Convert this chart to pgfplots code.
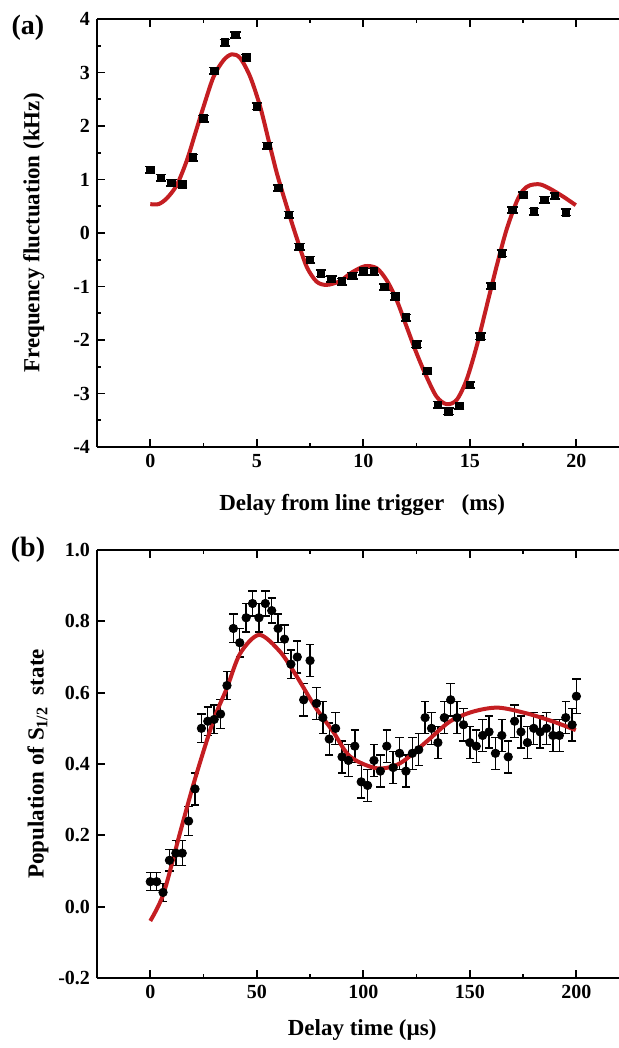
\documentclass[border=0pt]{standalone}
\usepackage{fontspec}
\setmainfont{Liberation Serif}
\usepackage{pgfplots}
\pgfplotsset{compat=1.18}
\usepackage{pgfplotstable}

\definecolor{fitred}{RGB}{196,30,34}

% panel (a): frequency fluctuation vs delay (ms)
\pgfplotstableread{
x y
0 1.18
0.5 1.03
1.0 0.94
1.5 0.91
2.0 1.41
2.5 2.14
3.0 3.03
3.5 3.56
4.0 3.70
4.5 3.28
5.0 2.37
5.5 1.63
6.0 0.84
6.5 0.34
7.0 -0.26
7.5 -0.50
8.0 -0.75
8.5 -0.86
9.0 -0.91
9.5 -0.80
10.0 -0.72
10.5 -0.72
11.0 -1.01
11.5 -1.19
12.0 -1.58
12.5 -2.08
13.0 -2.58
13.5 -3.21
14.0 -3.33
14.5 -3.23
15.0 -2.84
15.5 -1.93
16.0 -0.99
16.5 -0.38
17.0 0.43
17.5 0.71
18.0 0.40
18.5 0.62
19.0 0.69
19.5 0.39
}\freqdata

\pgfplotstableread{
x y
0 0.54
0.39 0.54
0.78 0.65
1.25 0.90
1.72 1.36
2.11 1.86
2.5 2.36
2.97 2.92
3.44 3.23
3.83 3.34
4.22 3.27
4.69 2.92
5.16 2.36
5.55 1.74
5.94 1.12
6.41 0.49
6.88 -0.10
7.34 -0.63
7.81 -0.91
8.28 -0.97
8.9 -0.90
9.45 -0.74
10.08 -0.62
10.63 -0.66
11.09 -0.88
11.56 -1.25
12.03 -1.75
12.5 -2.25
12.97 -2.69
13.44 -3.06
13.91 -3.20
14.38 -3.12
14.84 -2.75
15.31 -2.13
15.78 -1.38
16.25 -0.63
16.72 0.06
17.19 0.58
17.5 0.80
17.81 0.89
18.28 0.91
18.75 0.83
19.38 0.68
19.97 0.52
}\freqfit

% panel (b): population vs delay time (us)
\pgfplotstableread{
x y e
0 0.07 0.025
3 0.07 0.025
6 0.04 0.025
9 0.13 0.03
12 0.15 0.035
15 0.15 0.035
18 0.24 0.04
21 0.33 0.045
24 0.50 0.04
27 0.52 0.04
30 0.525 0.04
33 0.54 0.04
36 0.62 0.04
39 0.78 0.04
42 0.74 0.04
45 0.81 0.04
48 0.85 0.035
51 0.81 0.04
54 0.85 0.035
57 0.83 0.035
60 0.78 0.04
63 0.75 0.04
66 0.68 0.04
69 0.70 0.045
72 0.58 0.045
75 0.69 0.045
78 0.57 0.045
81 0.53 0.045
84 0.47 0.045
87 0.50 0.045
90 0.42 0.045
93 0.41 0.045
96 0.45 0.045
99 0.35 0.045
102 0.34 0.045
105 0.41 0.045
108 0.38 0.045
111 0.45 0.045
114 0.39 0.045
117 0.43 0.045
120 0.38 0.045
123 0.43 0.045
126 0.44 0.045
129 0.53 0.045
132 0.50 0.045
135 0.46 0.045
138 0.53 0.045
141 0.58 0.045
144 0.53 0.045
147 0.51 0.045
150 0.46 0.045
153 0.45 0.045
156 0.48 0.045
159 0.49 0.045
162 0.43 0.045
165 0.48 0.045
168 0.42 0.045
171 0.52 0.045
174 0.49 0.045
177 0.46 0.045
180 0.50 0.045
183 0.49 0.045
186 0.50 0.045
189 0.48 0.045
192 0.48 0.045
195 0.53 0.045
198 0.51 0.045
200 0.59 0.048
}\popdata

\pgfplotstableread{
x y
0 -0.04
6.25 0.037
14.1 0.21
21.1 0.36
29.7 0.523
35.9 0.612
42.2 0.710
51.1 0.762
60.9 0.715
68.8 0.645
77.3 0.561
85.9 0.49
93.75 0.421
106.3 0.388
117.2 0.402
129.7 0.463
140.6 0.519
151.6 0.547
163.3 0.558
176.6 0.542
189.1 0.519
199.7 0.495
}\popfit

\pgfplotsset{
  panel/.style={
    scale only axis,
    width=261pt, height=214pt,
    axis x line*=box, axis y line*=left,
    axis line style={line width=1pt},
    every tick/.style={line width=0.9pt, black},
    major tick length=3.8pt, minor tick length=2pt,
    tick align=inside,
    minor x tick num=1, minor y tick num=1,
    /pgf/number format/assume math mode=true,
    tick label style={font=\bfseries\fontsize{10}{12}\selectfont},
    label style={font=\bfseries\fontsize{11.5}{14}\selectfont},
  },
}

\begin{document}
\begin{tikzpicture}

\begin{axis}[panel,
  at={(48.5pt,300.5pt)}, anchor=south west,
  xmin=-2.5, xmax=22, ymin=-4, ymax=4,
  xtick={0,5,10,15,20}, ytick={-4,-3,...,4},
  xlabel={Delay from line trigger \ \ (ms)},
  ylabel={Frequency fluctuation (kHz)},
  xlabel style={at={(axis description cs:0.508,-0.1355)}, anchor=center},
  ylabel style={at={(axis description cs:-0.121,0.5)}, anchor=center},
]
\addplot[only marks, mark=square*, mark size=1.9pt, black,
  error bars/.cd, y dir=both, y fixed=0.06,
  error bar style={line width=0.8pt},
  error mark options={rotate=90, mark size=2.6pt, line width=0.8pt}]
  table[x=x, y=y] {\freqdata};
\addplot[fitred, line width=2pt, smooth] table[x=x, y=y] {\freqfit};
\end{axis}

\begin{axis}[panel,
  at={(48.5pt,35pt)}, anchor=south west,
  xmin=-25, xmax=220, ymin=-0.2, ymax=1.0,
  xtick={0,50,100,150,200}, ytick={-0.2,0,0.2,...,1.0},
  yticklabel style={/pgf/number format/.cd, fixed, fixed zerofill, precision=1},
  xlabel={Delay time (µs)},
  ylabel={Population of S\textsubscript{1/2} \ state},
  xlabel style={at={(axis description cs:0.508,-0.1215)}, anchor=center},
  ylabel style={at={(axis description cs:-0.113,0.5)}, anchor=center},
]
\addplot[only marks, mark=*, mark size=2.1pt, black,
  error bars/.cd, y dir=both, y explicit,
  error bar style={line width=0.7pt},
  error mark options={rotate=90, mark size=2.1pt, line width=0.7pt}]
  table[x=x, y=y, y error=e] {\popdata};
\addplot[fitred, line width=2pt, smooth] table[x=x, y=y] {\popfit};
\end{axis}

\node[font=\bfseries\fontsize{14}{16}\selectfont] at (14pt,510pt) {(a)};
\node[font=\bfseries\fontsize{14}{16}\selectfont] at (14pt,249pt) {(b)};

\pgfresetboundingbox
\path[use as bounding box] (0,0) rectangle (309.5pt,524pt);
\end{tikzpicture}
\end{document}
